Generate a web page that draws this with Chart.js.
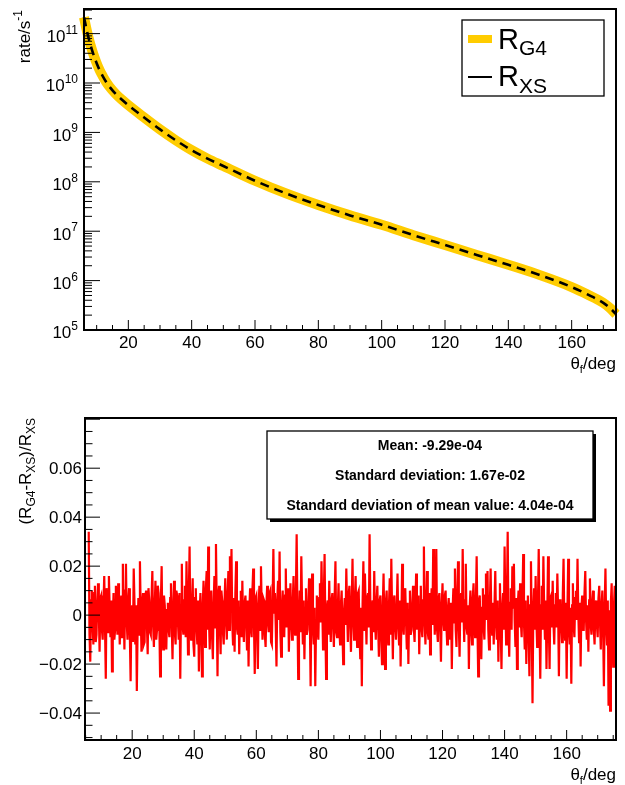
<!DOCTYPE html>
<html lang="en">
<head>
<meta charset="UTF-8">
<title>Rate vs scattering angle</title>
<script src="https://cdn.jsdelivr.net/npm/chart.js"></script>
<style>
  body { margin: 0; background: #fff; }
  #wrap { position: relative; width: 625px; height: 785px; }
  canvas { position: absolute; left: 0; }
  #top { top: 0; }
  #bottom { top: 392px; }
</style>
</head>
<body>
<div id="wrap">
  <canvas id="top" width="625" height="392"></canvas>
  <canvas id="bottom" width="625" height="393"></canvas>
</div>
<script>
// ---- top panel: rate (1/s) vs theta_f ----
const thetaTop = [6, 7, 8, 9, 10, 11, 12, 13, 14, 16, 18, 20, 25, 30, 35, 40, 45, 50, 60, 70, 80, 90,
                  100, 110, 120, 130, 140, 150, 160, 165, 170, 172, 174];
const rateG4 = [2.14e11, 1.07e11, 6.03e10, 3.76e10, 2.51e10, 1.78e10, 1.35e10, 1.05e10, 8.51e9, 6.03e9,
                4.57e9, 3.55e9, 2.0e9, 1.15e9, 6.92e8, 4.37e8, 2.95e8, 2.09e8, 1.05e8, 5.75e7,
                3.39e7, 2.09e7, 1.35e7, 8.32e6, 5.25e6, 3.31e6, 2.09e6, 1.29e6, 7.41e5, 5.25e5,
                3.55e5, 2.82e5, 2.09e5];
const rateXS = [2.14e11, 1.07e11, 6.03e10, 3.76e10, 2.51e10, 1.78e10, 1.35e10, 1.05e10, 8.51e9, 6.03e9,
                4.57e9, 3.55e9, 2.0e9, 1.15e9, 6.92e8, 4.37e8, 2.95e8, 2.09e8, 1.05e8, 5.75e7,
                3.39e7, 2.09e7, 1.35e7, 8.32e6, 5.25e6, 3.31e6, 2.09e6, 1.29e6, 7.41e5, 5.25e5,
                3.55e5, 2.82e5, 2.09e5];
const topXTicks = [20, 40, 60, 80, 100, 120, 140, 160];
const topYDecades = [5, 6, 7, 8, 9, 10, 11];

// ---- bottom panel: (R_G4 - R_XS)/R_XS, one value every 0.25 deg starting at 6 deg ----
const resStart = 6, resStep = 0.25;
const residual = [
  0.034, -0.008, -0.019, 0.006, 0.010, -0.004, -0.012, 0.009, 0.012, -0.011, -0.008, 0.005, 0.013, 0.002, -0.015, 0.007, 0.008, -0.006, -0.010, 0.004,
  0.016, -0.005, -0.026, 0.011, 0.006, -0.007, 0.016, 0.003, -0.009, 0.006, -0.023, -0.002, 0.009, -0.010, -0.006, 0.012, 0.004, -0.008, 0.013, 0.001,
  -0.012, 0.003, 0.008, -0.009, 0.021, 0.004, -0.014, 0.010, 0.021, -0.003, -0.010, 0.006, 0.011, -0.008, -0.027, 0.002, 0.004, -0.011, 0.019, 0.005,
  -0.012, 0.004, -0.031, -0.006, 0.007, -0.008, 0.022, 0.002, -0.015, 0.005, 0.009, -0.012, -0.011, 0.008, 0.010, -0.004, -0.016, 0.011, 0.006, -0.007,
  -0.008, 0.007, 0.018, -0.004, -0.013, 0.003, 0.014, -0.010, -0.006, 0.012, 0.009, -0.003, -0.025, 0.006, 0.020, -0.009, -0.014, 0.008, 0.004, -0.006,
  -0.014, 0.002, 0.005, -0.006, -0.009, 0.007, 0.013, -0.004, -0.018, 0.003, 0.014, -0.007, -0.012, 0.010, 0.008, -0.003, -0.010, 0.009, -0.026, 0.004,
  0.021, -0.004, -0.008, 0.006, 0.012, -0.009, 0.022, 0.003, -0.016, 0.008, 0.028, -0.006, -0.010, 0.004, 0.015, -0.012, -0.017, 0.007, 0.011, -0.005,
  -0.012, 0.006, -0.023, 0.002, 0.009, -0.007, -0.025, 0.004, 0.014, -0.003, -0.013, 0.011, 0.018, -0.006, 0.028, -0.002, -0.014, 0.007, 0.010, -0.009,
  -0.018, 0.004, 0.016, -0.005, 0.029, 0.003, -0.025, 0.008, 0.012, -0.004, -0.016, 0.010, 0.006, -0.007, -0.012, 0.005, 0.015, -0.002, -0.010, 0.008,
  0.018, -0.006, 0.024, 0.004, 0.027, -0.003, -0.012, 0.007, -0.015, 0.009, 0.022, -0.005, -0.008, 0.006, -0.016, 0.003, 0.010, -0.009, 0.014, -0.004,
  -0.011, 0.005, 0.008, -0.003, -0.014, 0.006, -0.021, 0.002, 0.011, -0.006, -0.009, 0.010, 0.019, -0.004, -0.024, 0.007, 0.008, -0.005, -0.022, 0.004,
  0.012, -0.006, 0.020, 0.002, -0.010, 0.007, 0.006, -0.008, -0.013, 0.004, 0.012, -0.003, -0.007, 0.009, 0.010, -0.011, -0.012, 0.005, 0.027, 0.001,
  0.009, -0.004, -0.021, 0.006, 0.014, -0.002, 0.026, -0.007, -0.017, 0.003, 0.010, -0.006, -0.009, 0.008, 0.019, -0.005, 0.005, 0.011, -0.015, 0.002,
  0.013, -0.003, -0.010, 0.005, 0.016, -0.006, -0.008, 0.009, 0.033, 0.002, -0.026, -0.004, 0.010, -0.007, 0.024, 0.004, -0.012, 0.006, -0.018, 0.003,
  0.011, -0.008, -0.006, 0.004, 0.015, -0.002, -0.029, 0.006, 0.017, -0.005, -0.012, 0.003, -0.029, -0.004, 0.008, -0.006, -0.010, 0.007, 0.013, -0.003,
  0.022, 0.004, -0.014, 0.007, 0.025, -0.005, -0.026, 0.003, 0.006, -0.008, 0.014, -0.002, -0.011, 0.006, 0.009, -0.004, -0.013, 0.008, 0.022, -0.007,
  -0.009, 0.002, 0.013, -0.005, -0.012, 0.004, 0.010, -0.006, -0.020, 0.001, 0.007, -0.004, 0.019, 0.003, -0.011, 0.008, 0.012, -0.003, -0.015, 0.005,
  0.023, -0.002, -0.010, 0.006, 0.016, -0.004, -0.013, 0.009, 0.010, -0.007, -0.018, 0.003, -0.029, 0.005, 0.022, -0.006, 0.017, 0.002, -0.012, 0.007,
  0.009, -0.005, 0.033, 0.004, -0.014, 0.003, 0.006, -0.007, 0.018, -0.002, -0.010, 0.005, 0.012, -0.004, -0.017, 0.006, 0.008, -0.009, -0.020, 0.003,
  0.017, -0.003, -0.022, 0.005, 0.010, -0.006, -0.012, 0.004, 0.015, -0.008, 0.023, 0.002, -0.018, 0.006, 0.008, -0.005, -0.010, 0.003, 0.017, -0.004,
  -0.012, 0.006, -0.021, -0.002, 0.021, -0.004, -0.008, 0.007, 0.011, -0.003, -0.014, 0.005, -0.020, 0.002, 0.010, -0.008, -0.006, 0.004, 0.012, -0.005,
  -0.011, 0.003, 0.017, -0.006, 0.005, 0.008, -0.016, 0.002, 0.012, -0.005, -0.009, 0.006, 0.028, -0.003, -0.012, 0.004, 0.018, -0.007, -0.010, 0.009,
  -0.016, 0.002, 0.011, -0.004, 0.027, 0.005, -0.008, 0.003, 0.027, -0.006, -0.011, 0.007, 0.009, -0.005, -0.019, 0.004, 0.013, -0.002, -0.006, 0.008,
  0.010, -0.004, -0.012, 0.003, 0.007, -0.006, -0.010, 0.005, -0.022, 0.002, 0.011, -0.003, 0.019, -0.006, -0.013, 0.008, 0.022, -0.004, -0.017, 0.006,
  0.009, -0.003, 0.027, 0.002, -0.011, 0.006, 0.021, -0.005, -0.008, 0.004, -0.022, 0.003, 0.010, -0.006, -0.012, 0.007, 0.013, -0.002, -0.009, 0.005,
  0.024, -0.004, -0.025, 0.006, 0.008, -0.007, -0.018, 0.003, 0.011, -0.005, -0.010, 0.008, 0.017, -0.002, 0.018, -0.006, -0.014, 0.004, 0.019, -0.003,
  -0.008, 0.005, -0.012, 0.004, 0.018, -0.003, -0.010, 0.006, -0.019, 0.002, 0.013, -0.005, -0.022, 0.003, 0.009, -0.006, 0.028, 0.004, -0.012, 0.006,
  0.034, -0.004, -0.017, 0.005, 0.011, -0.006, 0.020, 0.003, 0.021, -0.002, -0.013, 0.007, -0.022, 0.004, 0.010, -0.005, 0.013, -0.003, -0.009, 0.006,
  0.025, -0.003, -0.014, 0.006, -0.020, 0.002, 0.008, -0.007, -0.025, 0.004, 0.022, -0.005, -0.036, 0.001, 0.011, -0.006, 0.016, -0.002, -0.013, 0.005,
  0.027, -0.002, -0.026, 0.004, 0.012, -0.006, 0.024, 0.003, -0.010, 0.006, -0.022, -0.001, 0.024, -0.004, -0.022, 0.007, 0.008, -0.005, 0.014, -0.003,
  -0.012, 0.004, 0.009, -0.005, 0.017, 0.002, -0.025, 0.006, 0.006, -0.004, -0.011, 0.008, 0.023, -0.003, -0.010, 0.005, -0.026, 0.002, 0.023, -0.006,
  -0.012, 0.003, -0.028, 0.004, 0.013, -0.004, -0.009, 0.007, 0.010, -0.002, 0.023, 0.001, -0.011, 0.005, -0.021, 0.003, 0.008, -0.006, -0.006, 0.009,
  0.018, -0.002, -0.010, 0.004, -0.015, 0.006, 0.015, -0.004, -0.008, 0.005, 0.010, -0.006, -0.012, 0.003, 0.006, -0.004, -0.009, 0.007, 0.012, -0.003,
  -0.014, 0.004, 0.010, -0.006, -0.029, 0.003, 0.019, -0.004, -0.012, 0.006, -0.037, 0.002, -0.039, 0.005, 0.013, -0.008, -0.021, 0.004, 0.012, -0.005
];
const botXTicks = [20, 40, 60, 80, 100, 120, 140, 160];
const botYTicks = [-0.04, -0.02, 0, 0.02, 0.04, 0.06];
const botYLabels = ['\u22120.04', '\u22120.02', '0', '0.02', '0.04', '0.06'];
const statsLines = ['Mean: -9.29e-04', 'Standard deviation: 1.67e-02',
                    'Standard deviation of mean value: 4.04e-04'];

const FONT = '"Liberation Sans", Arial, Helvetica, sans-serif';

// text made of pieces, for sub/superscripts
function setFont(ctx, p) {
  ctx.font = (p.bold ? 'bold ' : '') + p.size + 'px ' + FONT;
}
function drawRich(ctx, x, y, parts, align) {
  let w = 0;
  parts.forEach(p => { setFont(ctx, p); w += ctx.measureText(p.t).width; });
  let cx = align === 'right' ? x - w : align === 'center' ? x - w / 2 : x;
  ctx.textAlign = 'left';
  ctx.textBaseline = 'alphabetic';
  parts.forEach(p => {
    setFont(ctx, p);
    ctx.fillText(p.t, cx, y + (p.dy || 0));
    cx += ctx.measureText(p.t).width;
  });
}
function drawRotated(ctx, x, y, parts) {
  ctx.save();
  ctx.translate(x, y);
  ctx.rotate(-Math.PI / 2);
  drawRich(ctx, 0, 0, parts, 'right');
  ctx.restore();
}

const topDecor = {
  id: 'topDecor',
  afterDatasetsDraw(chart) {
    const { ctx, chartArea: a, scales: { x, y } } = chart;
    ctx.save();
    ctx.strokeStyle = '#000';
    ctx.fillStyle = '#000';
    ctx.lineWidth = 2;
    ctx.strokeRect(a.left, a.top, a.right - a.left, a.bottom - a.top);

    // ticks, drawn inside the frame
    ctx.lineWidth = 1;
    ctx.beginPath();
    for (let v = 10; v <= 170; v += 5) {
      const px = x.getPixelForValue(v);
      const len = topXTicks.includes(v) ? 10 : 5;
      ctx.moveTo(px, a.bottom); ctx.lineTo(px, a.bottom - len);
    }
    topYDecades.forEach(d => {
      for (let m = 1; m <= 9; m++) {
        const v = m * Math.pow(10, d);
        if (v > y.max) break;
        const py = y.getPixelForValue(v);
        ctx.moveTo(a.left, py); ctx.lineTo(a.left + (m === 1 ? 16 : 8), py);
      }
    });
    ctx.stroke();

    topXTicks.forEach(v => {
      drawRich(ctx, x.getPixelForValue(v), 348, [{ t: String(v), size: 17 }], 'center');
    });
    topYDecades.forEach(d => {
      const py = y.getPixelForValue(Math.pow(10, d));
      drawRich(ctx, 78, py + 8.4, [{ t: '10', size: 17 }, { t: String(d), size: 12, dy: -8.4 }], 'right');
    });

    // axis titles
    drawRich(ctx, 616, 369, [{ t: '\u03b8', size: 17 }, { t: 'f', size: 11, dy: 4 }, { t: '/deg', size: 17 }], 'right');
    drawRotated(ctx, 30, 10, [{ t: 'rate/s', size: 17 }, { t: '-1', size: 12, dy: -8 }]);

    // legend
    ctx.lineWidth = 1.3;
    ctx.strokeRect(462, 20, 142, 76);
    ctx.lineWidth = 8;
    ctx.strokeStyle = '#ffcc00';
    ctx.beginPath(); ctx.moveTo(468, 39); ctx.lineTo(492, 39); ctx.stroke();
    ctx.lineWidth = 2;
    ctx.strokeStyle = '#000';
    ctx.beginPath(); ctx.moveTo(468, 77); ctx.lineTo(492, 77); ctx.stroke();
    drawRich(ctx, 498, 49, [{ t: 'R', size: 29 }, { t: 'G4', size: 21, dy: 6 }], 'left');
    drawRich(ctx, 498, 86, [{ t: 'R', size: 29 }, { t: 'XS', size: 21, dy: 7 }], 'left');
    ctx.restore();
  }
};

const bottomDecor = {
  id: 'bottomDecor',
  afterDatasetsDraw(chart) {
    const { ctx, chartArea: a, scales: { x, y } } = chart;
    ctx.save();
    ctx.strokeStyle = '#000';
    ctx.fillStyle = '#000';
    ctx.lineWidth = 2;
    ctx.strokeRect(a.left, a.top, a.right - a.left, a.bottom - a.top);

    ctx.lineWidth = 1;
    ctx.beginPath();
    for (let v = 5; v <= 175; v += 5) {
      const px = x.getPixelForValue(v);
      const len = botXTicks.includes(v) ? 10 : 5;
      ctx.moveTo(px, a.bottom); ctx.lineTo(px, a.bottom - len);
    }
    for (let i = -10; i <= 16; i++) {
      const v = i * 0.005;
      if (v < y.min || v > y.max) continue;
      const py = y.getPixelForValue(v);
      ctx.moveTo(a.left, py); ctx.lineTo(a.left + (i % 4 === 0 ? 15 : 7.5), py);
    }
    ctx.stroke();

    botXTicks.forEach(v => {
      drawRich(ctx, x.getPixelForValue(v), 367, [{ t: String(v), size: 17 }], 'center');
    });
    botYTicks.forEach((v, i) => {
      drawRich(ctx, 82, y.getPixelForValue(v) + 6, [{ t: botYLabels[i], size: 17 }], 'right');
    });

    drawRich(ctx, 616, 388, [{ t: '\u03b8', size: 17 }, { t: 'f', size: 11, dy: 4 }, { t: '/deg', size: 17 }], 'right');
    drawRotated(ctx, 31, 26, [
      { t: '(R', size: 17 }, { t: 'G4', size: 12, dy: 4 }, { t: '-R', size: 17 }, { t: 'XS', size: 12, dy: 4 },
      { t: ')/R', size: 17 }, { t: 'XS', size: 12, dy: 4 }
    ]);

    // statistics box with shadow
    const bx = 267, by = 39, bw = 326, bh = 88;
    ctx.fillStyle = '#000';
    ctx.fillRect(bx + 3, by + 3, bw, bh);
    ctx.fillStyle = '#fff';
    ctx.fillRect(bx, by, bw, bh);
    ctx.lineWidth = 1.3;
    ctx.strokeRect(bx, by, bw, bh);
    ctx.fillStyle = '#000';
    statsLines.forEach((s, i) => {
      drawRich(ctx, bx + bw / 2, 58 + i * 30, [{ t: s, size: 14, bold: true }], 'center');
    });
    ctx.restore();
  }
};

const hidden = { display: false };

new Chart(document.getElementById('top'), {
  type: 'line',
  data: {
    datasets: [
      {
        label: 'R_G4',
        data: thetaTop.map((t, i) => ({ x: t, y: rateG4[i] })),
        borderColor: '#ffcc00',
        borderWidth: 10,
        pointRadius: 0,
        cubicInterpolationMode: 'monotone',
        order: 2,
        clip: 8
      },
      {
        label: 'R_XS',
        data: thetaTop.map((t, i) => ({ x: t, y: rateXS[i] })),
        borderColor: '#000',
        borderWidth: 2.6,
        borderDash: [9, 6],
        pointRadius: 0,
        cubicInterpolationMode: 'monotone',
        order: 1,
        clip: 8
      }
    ]
  },
  options: {
    responsive: false,
    animation: false,
    events: [],
    layout: { padding: { left: 84, right: 9, top: 9, bottom: 62 } },
    plugins: { legend: hidden, tooltip: { enabled: false } },
    scales: {
      x: { type: 'linear', min: 6, max: 174, display: false },
      y: { type: 'logarithmic', min: 1e5, max: 3.15e11, display: false }
    }
  },
  plugins: [topDecor]
});

new Chart(document.getElementById('bottom'), {
  type: 'line',
  data: {
    datasets: [{
      label: 'residual',
      data: residual.map((r, i) => ({ x: resStart + i * resStep, y: r })),
      borderColor: '#ff0000',
      borderWidth: 2.2,
      pointRadius: 0,
      tension: 0
    }]
  },
  options: {
    responsive: false,
    animation: false,
    events: [],
    layout: { padding: { left: 85, right: 9, top: 26, bottom: 45 } },
    plugins: { legend: hidden, tooltip: { enabled: false } },
    scales: {
      x: { type: 'linear', min: 4.8, max: 175.9, display: false },
      y: { type: 'linear', min: -0.051, max: 0.0805, display: false }
    }
  },
  plugins: [bottomDecor]
});
</script>
</body>
</html>
